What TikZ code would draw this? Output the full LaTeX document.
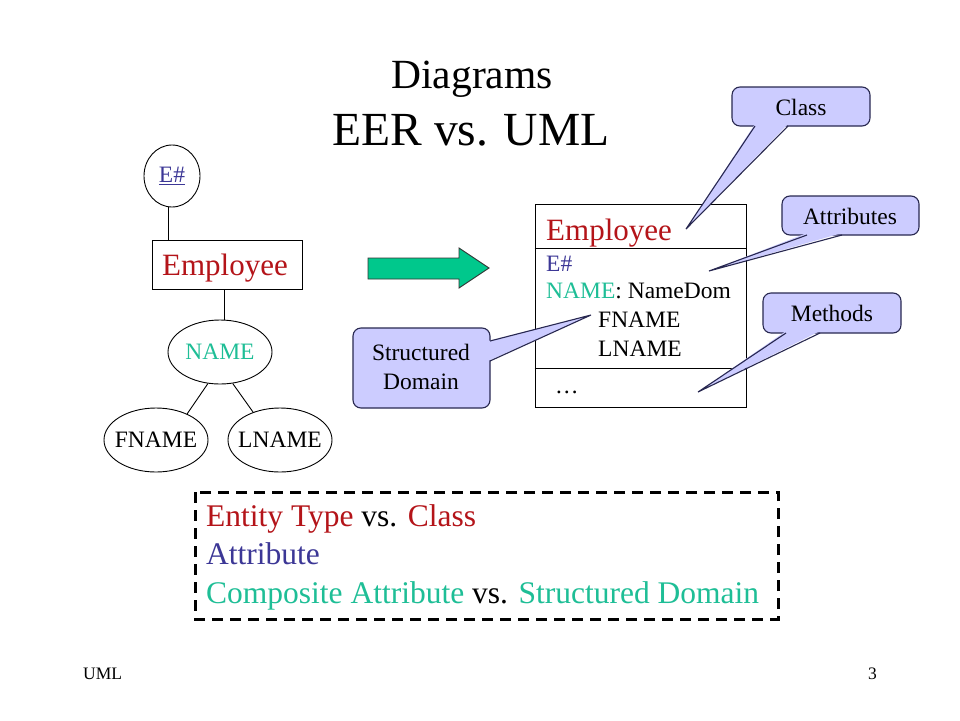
\documentclass[tikz,border=0pt]{standalone}
\usepackage{fontspec}
\setmainfont{Liberation Serif}
\usetikzlibrary{shapes.geometric}
\definecolor{eered}{RGB}{180,20,25}
\definecolor{eeblue}{RGB}{60,55,150}
\definecolor{eeteal}{RGB}{30,190,150}
\definecolor{callfill}{RGB}{204,204,255}
\definecolor{callline}{RGB}{40,40,80}
\definecolor{arrowgreen}{RGB}{0,200,140}
\begin{document}
\begin{tikzpicture}[x=1pt,y=-1pt,
  small/.style={font=\fontsize{23.5}{28}\selectfont, inner sep=0pt},
  big/.style={font=\fontsize{31}{37}\selectfont, inner sep=0pt},
  attr/.style={ellipse, draw, line width=0.9pt, inner ysep=0pt, inner xsep=-5pt, minimum width=104pt, minimum height=64pt, font=\fontsize{23.5}{28}\selectfont},
  ent/.style={draw, line width=0.9pt, inner sep=0pt},
  conn/.style={line width=0.9pt},
  callbox/.style={fill=callfill, draw=callline, line width=1.1pt, rounded corners=8pt},
  calltip/.style={draw=callline, line width=1.1pt, line join=miter},
  calltext/.style={font=\fontsize{23.5}{29}\selectfont, inner sep=0pt, align=center}]
\useasboundingbox[fill=white] (0,0) rectangle (960,720);

% title
\node[anchor=base, inner sep=0pt, font=\fontsize{41.5}{48}\selectfont] (t1) at (472,88) {Diagrams};
\node[anchor=base, inner sep=0pt, font=\fontsize{47.5}{55}\selectfont] (t2) at (471,145) {EER vs. UML};

% EER side
\node[attr, minimum width=56pt, minimum height=62pt, text=eeblue] (ekey) at (172,176) {\underline{E\#}};
\node[ent, minimum width=150pt, minimum height=49pt] (emp) at (227,264.5) {};
\node[big, anchor=base, text=eered] (empl) at (225,275) {Employee};
\node[attr, text=eeteal] (name) at (220,352) {NAME};
\node[attr] (fname) at (156,440) {FNAME};
\node[attr] (lname) at (280,440) {LNAME};
\draw[conn] ([xshift=-4pt]ekey.south) -- ([xshift=-4pt]ekey.south |- emp.north);
\draw[conn] ([xshift=-3pt]emp.south) -- ([xshift=-3pt]emp.south |- name.north);
\draw[conn] (name.249) -- (fname.40);
\draw[conn] (name.292) -- (lname.134);

% green arrow
\filldraw[fill=arrowgreen, draw=black!80, line width=0.9pt, line join=miter]
  (368,258) -- (459,258) -- (459,248) -- (489,268) -- (459,288) -- (459,279) -- (368,279) -- cycle;

% UML class box
\node[ent, minimum width=211pt, minimum height=203pt] (cls) at (640.5,305.5) {};
\coordinate (l1) at (0,248);
\coordinate (l2) at (0,368);
\draw[conn] (cls.west |- l1) -- (cls.east |- l1);
\draw[conn] (cls.west |- l2) -- (cls.east |- l2);
\node[big, anchor=base west, text=eered] (cname) at (546,240) {Employee};
\node[small, anchor=base west, text=eeblue] (ca1) at (546,271) {E\#};
\node[small, anchor=base west] (ca2) at (546,298) {\textcolor{eeteal}{NAME}: NameDom};
\node[small, anchor=base west] (ca3) at (598,327) {FNAME};
\node[small, anchor=base west] (ca4) at (598,356) {LNAME};
\node[small, anchor=base west] (cm) at (555,393) {…};

% callouts
\draw[callbox] (732,87) rectangle (870,126);
\fill[callfill] (755,124) -- (686,229) -- (788,124) -- cycle;
\draw[calltip] (755,126) -- (686,229) -- (788,126);
\node[calltext] (kclass) at (801,107) {Class};

\draw[callbox] (782,196) rectangle (919,235);
\fill[callfill] (807,233) -- (709,271) -- (842,233) -- cycle;
\draw[calltip] (807,235) -- (709,271) -- (842,235);
\node[calltext] (kattr) at (850,216) {Attributes};

\draw[callbox] (763,293) rectangle (901,333);
\fill[callfill] (786,331) -- (698,392) -- (820,331) -- cycle;
\draw[calltip] (786,333) -- (698,392) -- (820,333);
\node[calltext] (kmeth) at (832,313) {Methods};

\draw[callbox] (353,328) rectangle (490,408);
\fill[callfill] (488,341) -- (591,315) -- (488,361) -- cycle;
\draw[calltip] (490,341) -- (591,315) -- (490,361);
\node[calltext] (kdom) at (421,367) {Structured\\Domain};

% summary box
\draw[line width=3pt, dash pattern=on 11pt off 7pt] (195,492) rectangle (778,619);
\node[anchor=base west, inner sep=0pt, font=\fontsize{31.5}{37}\selectfont] (s1) at (206,526) {\textcolor{eered}{Entity Type} vs. \textcolor{eered}{Class}};
\node[anchor=base west, inner sep=0pt, font=\fontsize{31.5}{37}\selectfont, text=eeblue] (s2) at (206,564) {Attribute};
\node[anchor=base west, inner sep=0pt, font=\fontsize{31.5}{37}\selectfont] (s3) at (206,603) {\textcolor{eeteal}{Composite Attribute} vs. \textcolor{eeteal}{Structured Domain}};

% footer
\node[anchor=base west, inner sep=0pt, font=\fontsize{17.5}{21}\selectfont] (f1) at (83,679) {UML};
\node[anchor=base west, inner sep=0pt, font=\fontsize{17.5}{21}\selectfont] (f2) at (868,679) {3};
\end{tikzpicture}
\end{document}
